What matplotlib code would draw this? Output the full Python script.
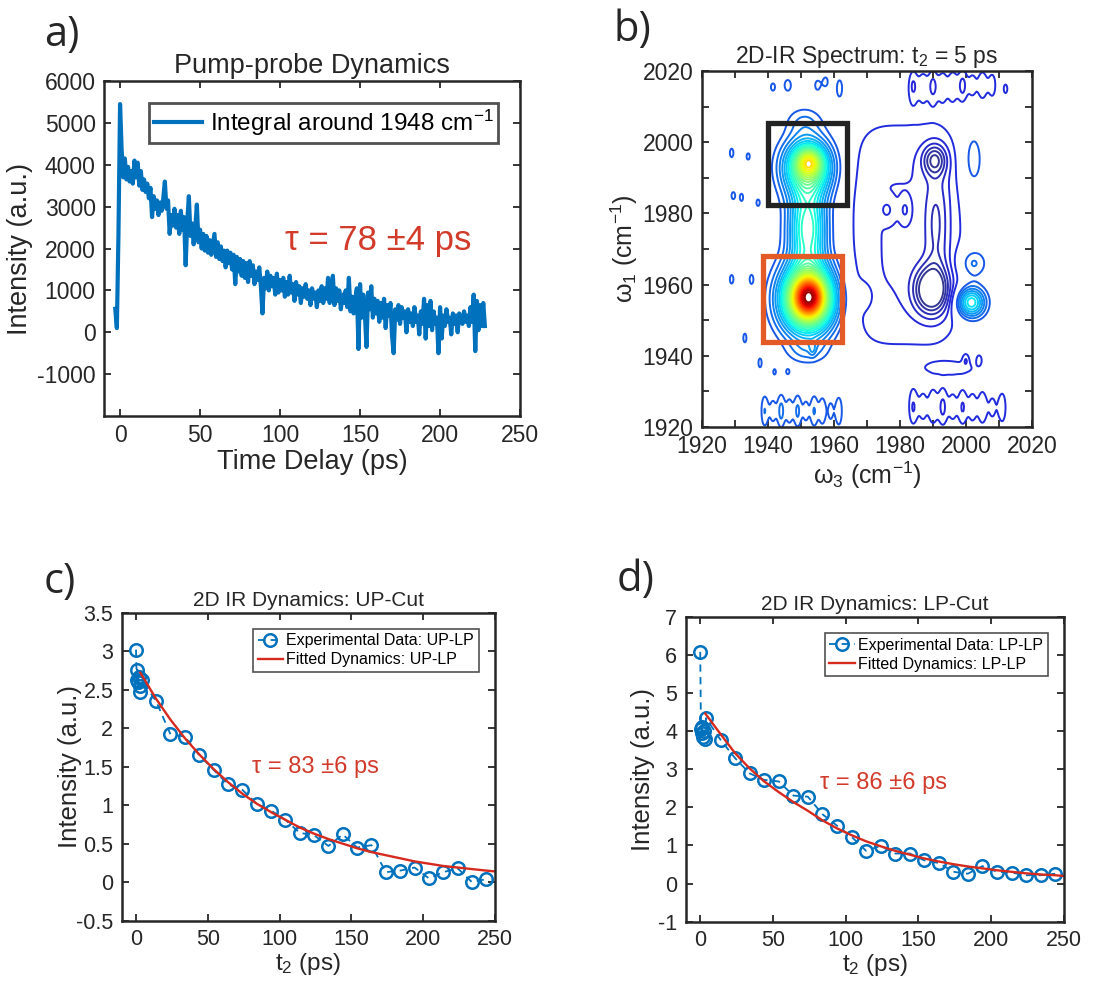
import numpy as np
import matplotlib
matplotlib.use('Agg')
import matplotlib.pyplot as plt
from matplotlib.patches import Rectangle
from matplotlib.ticker import MultipleLocator, FuncFormatter
from matplotlib.colors import Normalize, ListedColormap

plt.rcParams['font.family'] = ['Liberation Sans', 'DejaVu Sans']
plt.rcParams['mathtext.fontset'] = 'custom'
plt.rcParams['mathtext.rm'] = 'Liberation Sans'
plt.rcParams['mathtext.it'] = 'Liberation Sans:italic'
plt.rcParams['mathtext.default'] = 'regular'
plt.rcParams['axes.unicode_minus'] = False

# ---------------- Panel a: pump-probe trace ----------------
pp_t_start, pp_t_stop = -3, 228
pp_intensity = [
    560, 100, 2350, 5450, 4350, 3700, 4150, 3650, 3950, 3600,
    3850, 3550, 4100, 3700, 4050, 3500, 3850, 3400, 3650, 3350,
    3550, 3200, 3450, 2750, 3250, 2950, 3150, 2800, 3100, 2900,
    3200, 3600, 2950, 3150, 2350, 2800, 2550, 2950, 2500, 2800,
    2350, 2900, 2450, 2750, 1600, 2650, 3250, 2300, 2600, 2100,
    2500, 3050, 2150, 2450, 2000, 2350, 1950, 2300, 1900, 2200,
    1850, 2100, 2350, 1800, 2150, 1750, 2050, 1700, 1950, 1550,
    1950, 1650, 1900, 1500, 1850, 1150, 1800, 1450, 1750, 1350,
    1700, 1300, 1650, 1200, 1700, 1350, 1600, 1150, 1450, 1250,
    1550, 1100, 450, 1300, 1050, 1450, 1000, 1350, 1100, 1300,
    900, 1400, 950, 1250, 1000, 1300, 850, 1200, 900, 1350,
    950, 1150, 750, 1200, 900, 1100, 700, 1050, 850, 1150,
    800, 1000, 650, 1050, 800, 950, 600, 1000, 750, 1100,
    700, 1050, 800, 1300, 700, 1000, 1350, 650, 1050, 750,
    1000, 550, 900, 700, 1000, 600, 1300, 500, 850, 450,
    800, 1050, -400, 1150, 350, 900, 450, -350, 950, 550,
    1100, 350, 800, 450, 750, 250, 700, 350, 800, 100,
    650, 400, 700, -100, -500, 550, 300, 650, 200, 600,
    350, 500, 0, 550, 250, 450, 150, 600, 250, 400,
    -50, 500, 200, 800, -150, 650, 150, 750, 50, 500,
    200, 350, -500, 600, -150, 400, 150, 550, 250, 350,
    -50, 450, 200, 400, 0, 450, 300, 200, 500, 250,
    400, 150, 600, 250, 900, -450, 750, 50, 650, 150,
    700, 150,
]
pp_time = np.arange(pp_t_start, pp_t_stop + 1)

# ---------------- Panel b: 2D-IR spectral components ----------------
# centre w3, centre w1, width w3, width w1, amplitude, shape exponent
comp_w3 = [1952.5, 1952, 1952.5, 1952, 1952, 1951, 1952,
           1989.5, 1990.5, 1991, 1982, 2001.5, 2002, 2002,
           1996, 1946, 1955, 1961.7, 1941.5, 1957.5,
           1929, 1934, 1929.5, 1932, 1937, 1929, 1935, 1933, 1937.6, 1942, 1946, 1953.5,
           2012, 2000, 2004, 1969, 1976, 1981.5]
comp_w1 = [1956.5, 1956, 1994.5, 1993, 1976, 2006, 1941,
           1958.5, 1995, 1977, 1974, 1955, 1966, 1995,
           1936.5, 2016, 2016, 2015, 2015.5, 2017,
           1997, 1996, 1985, 1984.5, 1983, 1961.5, 1961.5, 1945, 1938, 1935.5, 1935.5, 1942,
           2015, 1939, 1939, 1957, 1981, 1981]
comp_s3 = [3.0, 5.5, 2.5, 5.0, 4.0, 4.0, 4.5,
           3.5, 2.5, 2.5, 15.6, 3.0, 3.0, 2.5,
           6, 1.4, 1.0, 1.1, 0.9, 0.9,
           0.8, 0.7, 0.8, 0.7, 0.7, 0.8, 0.7, 0.7, 0.7, 0.7, 0.7, 0.7,
           0.8, 0.8, 0.8, 2.0, 1.5, 1.0]
comp_s1 = [3.6, 6.5, 2.5, 5.5, 8.0, 3.0, 2.5,
           4.5, 3.0, 11, 29.5, 3.0, 3.0, 7.0,
           1.5, 2.2, 1.8, 3.2, 1.5, 1.7,
           1.8, 1.3, 1.5, 1.5, 1.3, 1.8, 1.6, 1.8, 1.8, 1.3, 1.0, 1.4,
           1.8, 1.3, 1.3, 2.5, 2.0, 2.0]
comp_amp = [0.38, 0.62, 0.22, 0.40, 0.30, 0.06, 0.05,
            -0.21, -0.13, -0.07, -0.072, 0.26, 0.09, 0.07,
            -0.05, 0.05, 0.05, 0.055, 0.05, 0.05,
            0.05, 0.05, 0.05, 0.05, 0.05, 0.05, 0.05, 0.05, 0.05, 0.045, 0.045, 0.05,
            -0.05, -0.05, -0.05, 0.045, 0.04, 0.04]
comp_pow = [2, 2, 2, 2, 2, 2, 2,
            2, 2, 2, 4, 2, 2, 2,
            2, 2, 2, 2, 2, 2,
            2, 2, 2, 2, 2, 2, 2, 2, 2, 2, 2, 2,
            2, 2, 2, 2, 2, 2]
# noise stripes along the spectrum edges: w3 position and amplitude of each stripe
stripe_bl_w3 = [1939, 1941.5, 1944, 1946.5, 1949, 1951.5, 1954, 1956.5, 1959, 1961.5]
stripe_bl_amp = [0.07, 0.05, 0.08, 0.055, 0.075, 0.048, 0.07, 0.06, 0.045, 0.065]
stripe_bl_w1 = 1924.5
stripe_br_w3 = [1984, 1987, 1990, 1993, 1996, 1999, 2002, 2005, 2008, 2011]
stripe_br_amp = [-0.07, -0.05, -0.065, -0.075, -0.05, -0.07, -0.055, -0.065, -0.045, -0.06]
stripe_br_w1 = 1925.5
stripe_tr_w3 = [1984, 1987, 1990, 1993, 1996, 1999, 2002, 2005, 2008]
stripe_tr_amp = [-0.065, -0.05, -0.07, -0.055, -0.06, -0.075, -0.05, -0.065, -0.055]
stripe_tr_w1 = 2016
box_up = (1940, 1982.5, 24, 23)
box_lp = (1938.5, 1944, 24, 24)

# ---------------- Panels c, d: 2D IR dynamics ----------------
t2_points = [0, 0.5, 1, 1.5, 2, 2.5, 3, 4, 14, 24, 34, 44, 54, 64, 74, 84, 94,
             104, 114, 124, 134, 144, 154, 164, 174, 184, 194, 204, 214, 224, 234, 244]
up_lp = [3.02, 2.62, 2.76, 2.60, 2.66, 2.55, 2.47, 2.62, 2.35, 1.92, 1.89, 1.65, 1.46,
         1.27, 1.20, 1.02, 0.93, 0.81, 0.64, 0.61, 0.47, 0.62, 0.45, 0.48, 0.13, 0.15,
         0.19, 0.05, 0.13, 0.18, 0.00, 0.04]
lp_lp = [6.08, 4.05, 3.95, 4.12, 3.85, 4.00, 3.80, 4.34, 3.77, 3.29, 2.89, 2.72, 2.68,
         2.31, 2.28, 1.82, 1.52, 1.23, 0.86, 0.99, 0.79, 0.79, 0.61, 0.54, 0.31, 0.26,
         0.46, 0.31, 0.29, 0.22, 0.22, 0.26]
fit_c_t = [3, 14, 24, 34, 44, 54, 64, 74, 84, 94, 104, 114, 124, 134, 144, 154, 164,
           174, 184, 194, 204, 214, 224, 234, 244, 250]
fit_c_y = [2.72, 2.38, 2.11, 1.87, 1.66, 1.47, 1.30, 1.15, 1.02, 0.91, 0.81, 0.71, 0.63,
           0.56, 0.50, 0.44, 0.39, 0.35, 0.31, 0.27, 0.24, 0.21, 0.19, 0.17, 0.15, 0.14]
fit_d_t = [3.5, 14, 24, 34, 44, 54, 64, 74, 84, 94, 104, 114, 124, 134, 144, 154, 164,
           174, 184, 194, 204, 214, 224, 234, 244, 250]
fit_d_y = [4.46, 3.92, 3.42, 3.02, 2.68, 2.40, 2.14, 1.91, 1.66, 1.45, 1.27, 1.11, 0.98,
           0.86, 0.76, 0.66, 0.58, 0.51, 0.45, 0.40, 0.35, 0.31, 0.27, 0.24, 0.22, 0.20]

BLUE = '#0072BD'
RED = '#D62A1E'
TXT_RED = '#D23A2A'
DARK = '#262626'

fig = plt.figure(figsize=(11.07, 9.81), dpi=100)


def style(ax, fs):
    for s in ax.spines.values():
        s.set_linewidth(1.8)
        s.set_color(DARK)
    ax.tick_params(which='both', direction='in', top=True, right=True, length=5,
                   width=1.3, labelsize=fs, colors=DARK, pad=6)


gfmt = FuncFormatter(lambda v, p: '%g' % v)

# ---- a ----
ax = fig.add_axes([0.094, 0.5759, 0.3758, 0.3415])
ax.plot(pp_time, pp_intensity, color=BLUE, lw=3.0, label='Integral around 1948 cm$^{-1}$')
ax.set_xlim(-10, 250)
ax.set_ylim(-2000, 6000)
ax.set_xticks(np.arange(0, 251, 50))
ax.set_yticks(np.arange(-1000, 6001, 1000))
style(ax, 16.5)
ax.set_title('Pump-probe Dynamics', fontsize=19.5, pad=6, color=DARK)
ax.set_xlabel('Time Delay (ps)', fontsize=19.5, color=DARK, labelpad=1)
ax.set_ylabel('Intensity (a.u.)', fontsize=19.5, color=DARK, labelpad=3)
leg = ax.legend(loc='upper right', fontsize=17.5, frameon=True, fancybox=False,
                edgecolor=DARK, handlelength=2.0, borderpad=0.2, handletextpad=0.3,
                borderaxespad=0.9)
leg.get_frame().set_linewidth(2)
ax.text(103, 2200, 'τ = 78 ±4 ps', color=TXT_RED, fontsize=25, va='center', ha='left')

# ---- b ----
ax = fig.add_axes([0.6341, 0.5647, 0.2981, 0.3629])
w3 = np.linspace(1920, 2020, 401)
w1 = np.linspace(1920, 2020, 401)
W3, W1 = np.meshgrid(w3, w1)
Z = np.zeros_like(W3)


def add(x0, y0, sx, sy, a, p=2):
    return a * np.exp(-0.5 * np.abs((W3 - x0) / sx) ** p) * np.exp(-0.5 * np.abs((W1 - y0) / sy) ** p)


for x0, y0, sx, sy, a, p in zip(comp_w3, comp_w1, comp_s3, comp_s1, comp_amp, comp_pow):
    Z += add(x0, y0, sx, sy, a, p)
for x0, a in zip(stripe_bl_w3, stripe_bl_amp):
    Z += add(x0, stripe_bl_w1, 0.9, 3.8, a)
for x0, a in zip(stripe_br_w3, stripe_br_amp):
    Z += add(x0, stripe_br_w1, 1.1, 4.2, a)
for x0, a in zip(stripe_tr_w3, stripe_tr_amp):
    Z += add(x0, stripe_tr_w1, 1.1, 3.5, a)

jet = plt.get_cmap('jet')(np.linspace(0, 1, 256))
xs = np.linspace(0, 1, 256)
wgt = np.clip((0.36 - xs) / 0.36, 0, 1) * 0.5
jet[:, :3] = jet[:, :3] * (1 - wgt[:, None]) + wgt[:, None] * np.array([0.42, 0.45, 0.58])
cmap = ListedColormap(jet)

levels = np.concatenate([np.arange(-0.19, -0.035, 0.03), np.arange(0.04, 1.0, 0.03)])
ax.contour(W3, W1, Z, levels=levels, cmap=cmap, norm=Normalize(-0.21, 1.0), linewidths=1.4)
ax.add_patch(Rectangle(box_up[:2], box_up[2], box_up[3], fill=False, lw=3.8, ec='#222222', zorder=5))
ax.add_patch(Rectangle(box_lp[:2], box_lp[2], box_lp[3], fill=False, lw=3.8, ec='#E35A26', zorder=5))
ax.set_xlim(1920, 2020)
ax.set_ylim(1920, 2020)
ax.xaxis.set_major_locator(MultipleLocator(20))
ax.yaxis.set_major_locator(MultipleLocator(20))
ax.xaxis.set_minor_locator(MultipleLocator(10))
ax.yaxis.set_minor_locator(MultipleLocator(10))
style(ax, 16.5)
ax.set_title('2D-IR Spectrum: t$_2$ = 5 ps', fontsize=16.5, pad=6, color=DARK)
ax.set_xlabel('ω$_3$ (cm$^{-1}$)', fontsize=18, color=DARK, labelpad=1)
ax.set_ylabel('ω$_1$ (cm$^{-1}$)', fontsize=18, color=DARK, labelpad=2)


# ---- c & d ----
def dyn_panel(rect, ys, fit_t, fit_y, name, ylim, ystep, tau_txt, tau_xy, title, ylpad):
    ax = fig.add_axes(rect)
    ax.plot(t2_points, ys, linestyle='--', dashes=(4, 3), marker='o', color=BLUE, mfc='none',
            ms=9, mew=1.8, lw=1.3, label='Experimental Data: ' + name)
    ax.plot(fit_t, fit_y, color=RED, lw=1.7, label='Fitted Dynamics: ' + name)
    ax.set_xlim(-10, 250)
    ax.set_ylim(*ylim)
    ax.set_xticks(np.arange(0, 251, 50))
    ax.yaxis.set_major_locator(MultipleLocator(ystep))
    ax.yaxis.set_major_formatter(gfmt)
    style(ax, 15.5)
    ax.set_title(title, fontsize=15, pad=5, color=DARK)
    ax.set_xlabel('t$_2$ (ps)', fontsize=17.5, color=DARK, labelpad=1)
    ax.set_ylabel('Intensity (a.u.)', fontsize=18.5, color=DARK, labelpad=ylpad)
    lg = ax.legend(loc='upper right', fontsize=11.5,
                   frameon=True, fancybox=False, edgecolor=DARK, handlelength=1.6,
                   borderpad=0.3, handletextpad=0.2, labelspacing=0.25, borderaxespad=1.0)
    lg.get_frame().set_linewidth(1.2)
    ax.text(tau_xy[0], tau_xy[1], tau_txt, color=TXT_RED, fontsize=17, va='center', ha='left')
    return ax


dyn_panel([0.1099, 0.0615, 0.3372, 0.3140], up_lp, fit_c_t, fit_c_y, 'UP-LP', (-0.5, 3.5), 0.5,
          'τ = 83 ±6 ps', (81, 1.5), '2D IR Dynamics: UP-Cut', -4)
dyn_panel([0.6194, 0.0604, 0.3417, 0.3109], lp_lp, fit_d_t, fit_d_y, 'LP-LP', (-1, 7), 1,
          'τ = 86 ±6 ps', (82, 2.65), '2D IR Dynamics: LP-Cut', 2)

# panel letters
for lab, x, y in [('a)', 0.056, 0.964), ('b)', 0.571, 0.969), ('c)', 0.054, 0.407), ('d)', 0.574, 0.409)]:
    fig.text(x, y, lab, fontsize=30, family=['Open Sans', 'DejaVu Sans'], ha='center', va='center', color=DARK)

fig.savefig('out.png', dpi=100)
